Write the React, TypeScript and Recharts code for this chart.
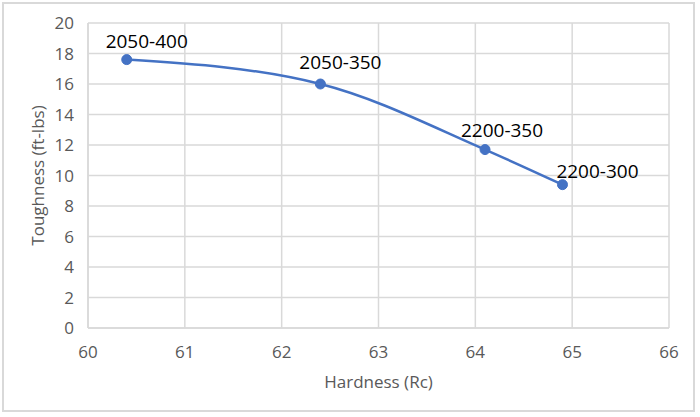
import React from "react";
import { LineChart, Line, XAxis, YAxis, CartesianGrid, LabelList } from "recharts";

const hardness = [60.4, 62.4, 64.1, 64.9];
const toughness = [17.6, 16.0, 11.7, 9.4];
const pointLabels = ["2050-400", "2050-350", "2200-350", "2200-300"];
const xTicks = [60, 61, 62, 63, 64, 65, 66];
const yTicks = [0, 2, 4, 6, 8, 10, 12, 14, 16, 18, 20];

// label placement offsets (style only)
const labelDx = [20, 20, 17, 35];
const labelDy = [-19, -22, -20, -14];

const data = hardness.map((h, i) => ({ x: h, y: toughness[i], name: pointLabels[i] }));

const FONT = "'Open Sans', sans-serif";

const PointLabel = (props: any) => {
  const { x, y, index, value } = props;
  return (
    <text
      x={x + labelDx[index]}
      y={y + labelDy[index]}
      textAnchor="middle"
      dominantBaseline="central"
      fontFamily={FONT}
      fontSize={19}
      fill="#000000"
    >
      {value}
    </text>
  );
};

export default function App() {
  return (
    <div
      style={{
        position: "absolute",
        left: 0,
        top: 0,
        width: 700,
        height: 417,
        background: "#fff",
      }}
    >
      <div
        style={{
          position: "absolute",
          left: 2,
          top: 2,
          width: 693,
          height: 410,
          border: "2px solid #d9d9d9",
          boxSizing: "border-box",
        }}
      />
      <div style={{ position: "absolute", left: 0, top: 0 }}>
        <LineChart
          width={700}
          height={417}
          data={data}
          margin={{ top: 23, right: 31, left: 0, bottom: 29 }}
        >
          <CartesianGrid stroke="#d9d9d9" strokeWidth={1.5} />
          <XAxis
            type="number"
            dataKey="x"
            domain={[60, 66]}
            ticks={xTicks}
            height={60}
            axisLine={{ stroke: "#d9d9d9", strokeWidth: 1.5 }}
            tickLine={false}
            tickMargin={12}
            tick={{ fill: "#595959", fontSize: 17, fontFamily: FONT }}
            label={{
              value: "Hardness (Rc)",
              position: "insideBottom",
              offset: 0,
              fill: "#595959",
              fontSize: 17,
              fontFamily: FONT,
            }}
          />
          <YAxis
            type="number"
            domain={[0, 20]}
            ticks={yTicks}
            width={88}
            axisLine={{ stroke: "#d9d9d9", strokeWidth: 1.5 }}
            tickLine={false}
            tickMargin={8}
            tick={{ fill: "#595959", fontSize: 17, fontFamily: FONT }}
            label={{
              value: "Toughness (ft-lbs)",
              angle: -90,
              position: "insideLeft",
              offset: 38,
              fill: "#595959",
              fontSize: 17,
              fontFamily: FONT,
              style: { textAnchor: "middle" },
            }}
          />
          <Line
            type="monotone"
            dataKey="y"
            stroke="#4472C4"
            strokeWidth={2.5}
            dot={{ r: 5, fill: "#4472C4", stroke: "#4472C4", strokeWidth: 1 }}
            activeDot={false}
            isAnimationActive={false}
          >
            <LabelList dataKey="name" content={PointLabel} />
          </Line>
        </LineChart>
      </div>
    </div>
  );
}
